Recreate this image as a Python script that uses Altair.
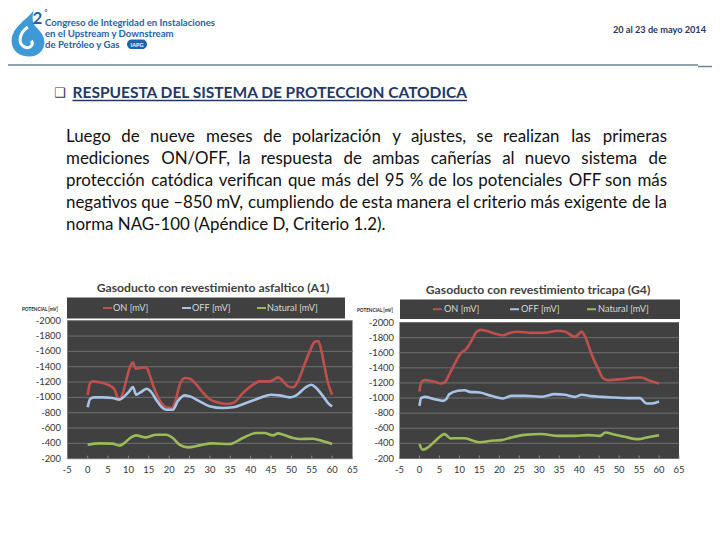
import altair as alt
import pandas as pd

# ------------------------------------------------------------------ data
x_ticks = [-5, 0, 5, 10, 15, 20, 25, 30, 35, 40, 45, 50, 55, 60, 65]
y_ticks = [-2000, -1800, -1600, -1400, -1200, -1000, -800, -600, -400, -200]
series_names = ["ON [mV]", "OFF [mV]", "Natural [mV]"]

# Gasoducto con revestimiento asfaltico (A1)
a1_on_x = [0, 0.6, 1.2, 2.9, 4.5, 5.8, 6.6, 7.4, 7.8, 8.6, 9.5, 10.3, 11.1, 11.8, 12.8, 14.0, 14.6, 15.2, 16.0,
           16.9, 18.1, 19.3, 20.6, 21.4, 22.6, 23.9, 25.1, 26.7, 28.4, 30.0, 31.6, 34.0, 35.7, 38.1, 40.6, 42.2,
           44.7, 45.9, 46.7, 47.6, 49.2, 50.4, 51.6, 52.9, 54.5, 55.7, 56.6, 57.4, 58.2, 59.0, 60]
a1_on_y = [-1030, -1185, -1208, -1196, -1174, -1143, -1100, -995, -980, -1050, -1230, -1383, -1457, -1374, -1383,
           -1391, -1374, -1296, -1165, -1044, -926, -870, -861, -926, -1165, -1252, -1243, -1165, -1056, -975, -939,
           -913, -926, -1056, -1165, -1209, -1209, -1239, -1261, -1230, -1143, -1130, -1209, -1383, -1600, -1722,
           -1735, -1600, -1383, -1187, -1035]
a1_off_x = [0, 0.6, 1.6, 3.7, 6.1, 7.8, 9.0, 10.2, 11.1, 11.9, 13.1, 14.5, 15.6, 16.8, 18.0, 19.3, 20.9, 22.1,
            23.8, 25.0, 27.5, 29.9, 33.2, 35.7, 38.9, 42.2, 45.0, 47.1, 49.6, 51.2, 53.3, 54.9, 56.1, 57.8, 59.0, 60]
a1_off_y = [-870, -978, -1000, -1000, -991, -970, -1013, -1078, -1135, -1035, -1070, -1113, -1070, -970, -883,
            -839, -839, -948, -1026, -1013, -948, -885, -861, -870, -926, -991, -1035, -1026, -1000, -1026, -1122,
            -1165, -1122, -1013, -926, -883]
a1_nat_x = [0, 2.9, 6.1, 7.8, 9.0, 10.2, 11.9, 14.3, 16.8, 19.3, 20.9, 22.5, 24.6, 27.5, 30.5, 34.8, 38.1, 41.4,
            43.4, 45.5, 46.7, 48.0, 50.4, 52.0, 55.3, 57.8, 60]
a1_nat_y = [-383, -400, -396, -370, -404, -461, -504, -478, -513, -513, -470, -383, -348, -374, -400, -391, -470,
            -535, -535, -504, -530, -513, -470, -457, -461, -426, -391]

# Gasoducto con revestimiento tricapa (G4)
g4_on_x = [0, 0.4, 1.3, 3.8, 5.4, 6.3, 7.5, 9.2, 10.5, 11.7, 13.0, 14.2, 15.3, 16.7, 18.8, 20.9, 23.0, 24.7, 28.0,
           31.4, 34.7, 36.4, 38.9, 39.7, 40.6, 41.4, 43.1, 44.8, 46.0, 47.3, 50.6, 54.0, 55.6, 57.3, 60]
g4_on_y = [-1087, -1206, -1237, -1215, -1193, -1206, -1316, -1493, -1603, -1647, -1757, -1868, -1903, -1890, -1855,
           -1832, -1868, -1877, -1863, -1865, -1890, -1881, -1810, -1837, -1881, -1824, -1581, -1382, -1263, -1237,
           -1250, -1272, -1272, -1237, -1193]
g4_off_x = [0, 0.4, 1.3, 3.8, 5.9, 6.7, 7.5, 9.6, 11.3, 12.6, 15.1, 18.0, 20.9, 23.0, 26.4, 30.5, 33.9, 36.4, 38.9,
            40.6, 43.1, 45.6, 48.9, 52.3, 55.2, 56.9, 58.2, 60]
g4_off_y = [-897, -999, -1016, -985, -963, -985, -1052, -1096, -1104, -1082, -1074, -1029, -994, -1029, -1029, -1018,
            -1052, -1043, -1016, -1043, -1025, -1016, -1007, -999, -999, -928, -928, -954]
g4_nat_x = [0, 0.8, 2.1, 3.8, 5.4, 6.3, 6.9, 7.8, 9.6, 11.3, 13.0, 15.1, 18.0, 20.5, 23.0, 26.4, 30.5, 34.7, 38.9,
            42.3, 45.2, 46.6, 48.5, 51.4, 54.8, 56.9, 60]
g4_nat_y = [-390, -315, -346, -425, -500, -522, -500, -465, -469, -469, -443, -416, -434, -443, -478, -513, -524,
            -500, -500, -509, -500, -544, -522, -487, -456, -478, -509]

# texts
header_lines = ["Congreso de Integridad en Instalaciones", "en el Upstream y Downstream", "de Petróleo y Gas"]
header_date = "20 al 23 de mayo 2014"
slide_title = "RESPUESTA DEL SISTEMA DE PROTECCION CATODICA"
para_lines = [
    "Luego de nueve meses de polarización y ajustes, se realizan las primeras",
    "mediciones ON/OFF, la respuesta de ambas cañerías al nuevo sistema de",
    "protección catódica verifican que más del 95 % de los potenciales OFF son más",
    "negativos que \u2013850 mV, cumpliendo de esta manera el criterio más exigente de la",
    "norma NAG-100 (Apéndice D, Criterio 1.2).",
]
chart_titles = ["Gasoducto con revestimiento asfaltico (A1)", "Gasoducto con revestimiento tricapa (G4)"]
y_axis_name = "POTENCIAL [mV]"

# ------------------------------------------------------------------ styles / layout
FONT = "Lato"
ON_C, OFF_C, NAT_C = "#c0504d", "#a7c3e8", "#9bbb59"
PLOT_BG = "#404040"
GRID_C = "#6f6f6f"
NAVY = "#1f3864"
LOGO_BLUE = "#1f63a8"
PARA_SIZE = 16.9


def P(v):
    """page coordinate -> chart coordinate (8px page margin)"""
    return v - 8


layers = []


def text(t, x, y, size, color="#000000", weight="normal", align="left", baseline="middle", font=FONT):
    layers.append(
        alt.Chart().mark_text(align=align, baseline=baseline, fontSize=size, fontWeight=weight, font=font,
                              color=color)
        .encode(x=alt.value(P(x)), y=alt.value(P(y)), text=alt.value(t))
    )


def hrule(x1, x2, y, color, width=1.0):
    layers.append(
        alt.Chart().mark_rule(color=color, strokeWidth=width)
        .encode(x=alt.value(P(x1)), x2=alt.value(P(x2)), y=alt.value(P(y)))
    )


def rect(x1, x2, y1, y2, color, radius=0):
    layers.append(
        alt.Chart().mark_rect(color=color, cornerRadius=radius)
        .encode(x=alt.value(P(x1)), x2=alt.value(P(x2)), y=alt.value(P(y1)), y2=alt.value(P(y2)))
    )


# ---------------- header (logo, congress name, date, separator)
drop_path = ("M0.25,-1 C0.05,-0.6 -0.7,-0.3 -0.7,0.35 C-0.7,0.75 -0.35,1 0.05,1 C0.45,1 0.7,0.72 0.7,0.4 "
             "C0.7,0.1 0.5,-0.1 0.3,-0.3 C0.15,-0.5 0.2,-0.8 0.25,-1 Z")
swirl_path = "M0.1,-0.55 C-0.4,-0.2 -0.45,0.35 -0.1,0.55 C0.2,0.7 0.45,0.45 0.3,0.2"
layers.append(alt.Chart().mark_point(shape=drop_path, filled=True, color="#3d9ad6", opacity=1, size=2200)
              .encode(x=alt.value(P(28)), y=alt.value(P(33))))
layers.append(alt.Chart().mark_point(shape=swirl_path, filled=False, color="white", strokeWidth=3, opacity=1,
                                     size=1300)
              .encode(x=alt.value(P(26)), y=alt.value(P(37))))
text("2", 32.5, 19, 17, LOGO_BLUE, "bold")
text("°", 44.5, 12.5, 7, LOGO_BLUE, "bold")
for i, line in enumerate(header_lines):
    text(line, 45, 22.5 + 11 * i, 9.6, LOGO_BLUE, "bold")
rect(127, 147, 39.5, 49, LOGO_BLUE, radius=5)
text("IAPG", 137, 44.5, 5.5, "white", "bold", align="center")
text(header_date, 706, 30, 9.2, NAVY, "bold", align="right")
hrule(8, 698, 65, "#6d8696", 1.5)
hrule(698, 720, 66.5, "#6d8696", 1.5)

# ---------------- slide title
text("\u2751", 54, 92.5, 13, NAVY, font="DejaVu Sans")
text(slide_title, 72.5, 92.5, 15.5, NAVY, "bold")
hrule(72.5, 467, 100.5, NAVY, 1.3)

# ---------------- paragraph (justified text)
# approximate advance widths (em) of the paragraph font, used only to spread words across the line
CW = {**{c: w for c, w in zip("abcdefghijklmnopqrstuvwxyz",
                              [.50, .56, .46, .56, .53, .32, .50, .56, .24, .24, .50, .24, .84, .56, .56, .56, .56,
                               .36, .42, .35, .56, .50, .76, .49, .50, .45])},
      "á": .50, "é": .53, "í": .24, "ó": .56, "ñ": .56, "A": .66, "C": .65, "D": .73, "E": .54, "F": .52,
      "G": .70, "L": .47, "N": .74, "O": .77, "P": .56, "R": .59, "S": .49, " ": .20, ",": .21, ".": .21,
      "/": .36, "(": .30, ")": .30, "-": .35, "\u2013": .56, "%": .80}


def est_em(s):
    return sum(CW.get(c, .58) for c in s)


# calibration from a rendered line: line 4 measured 591 px at 16.6 px
CAL = (591 / 16.6) / est_em(para_lines[3])

PARA_X0, PARA_X1 = 66, 667
para_y = [137, 159, 181, 203, 225]
for li, line in enumerate(para_lines):
    if li == len(para_lines) - 1:
        text(line, PARA_X0, para_y[li], PARA_SIZE, "#111111")
        continue
    words = line.split(" ")
    widths = [est_em(w) * CAL * PARA_SIZE for w in words]
    gap = (PARA_X1 - PARA_X0 - sum(widths)) / (len(words) - 1)
    xpos = PARA_X0
    for k, (w, wd) in enumerate(zip(words, widths)):
        if k == len(words) - 1:
            text(w, PARA_X1, para_y[li], PARA_SIZE, "#111111", align="right")
        else:
            text(w, xpos, para_y[li], PARA_SIZE, "#111111")
        xpos += wd + gap


# ---------------- chart panels
def panel(title, title_xy, band, legend_pos, plot_x, plot_y, ylab_x, yname_xy, xs_on, ys_on, xs_off, ys_off,
          xs_nat, ys_nat):
    text(title, title_xy[0], title_xy[1], 12.2, "#404040", "bold", align="center")
    rect(band[0], band[1], band[2], band[3], PLOT_BG)
    ly = (band[2] + band[3]) / 2
    for name, col, (sx, tx_) in zip(series_names, [ON_C, OFF_C, NAT_C], legend_pos):
        hrule(sx, sx + 9, ly, col, 2)
        text(name, tx_, ly, 9.2, "#d9d9d9")
    text(y_axis_name, yname_xy[0], yname_xy[1], 4.6, "#222222", "bold")

    xsc = alt.Scale(domain=[-5, 65], range=[P(plot_x[0]), P(plot_x[1])], nice=False, zero=False)
    ysc = alt.Scale(domain=[-2000, -200], range=[P(plot_y[0]), P(plot_y[1])], nice=False, zero=False)

    layers.append(
        alt.Chart().mark_rect(color=PLOT_BG).encode(
            x=alt.X(datum=-5, scale=xsc, axis=None), x2=alt.X2(datum=65),
            y=alt.Y(datum=-2000, scale=ysc, axis=None), y2=alt.Y2(datum=-200))
    )
    yt = pd.DataFrame({"v": y_ticks, "lab": [str(v) for v in y_ticks]})
    layers.append(
        alt.Chart(yt).mark_rule(color=GRID_C, strokeWidth=1).encode(
            y=alt.Y("v:Q", scale=ysc, axis=None), x=alt.value(P(plot_x[0])), x2=alt.value(P(plot_x[1])))
    )
    layers.append(
        alt.Chart(yt).mark_text(align="right", baseline="middle", fontSize=9.4, font=FONT, color="#333333")
        .encode(y=alt.Y("v:Q", scale=ysc, axis=None), x=alt.value(P(ylab_x)), text="lab:N")
    )
    xt = pd.DataFrame({"v": x_ticks, "lab": [str(v) for v in x_ticks]})
    layers.append(
        alt.Chart(xt).mark_rule(color="#8a8a8a", strokeWidth=1).encode(
            x=alt.X("v:Q", scale=xsc, axis=None), y=alt.value(P(plot_y[1]) - 3), y2=alt.value(P(plot_y[1])))
    )
    layers.append(
        alt.Chart(xt).mark_text(align="center", baseline="middle", fontSize=9.4, font=FONT, color="#333333")
        .encode(x=alt.X("v:Q", scale=xsc, axis=None), y=alt.value(P(plot_y[1] + 11)), text="lab:N")
    )
    df = pd.concat([
        pd.DataFrame({"x": xs_on, "v": ys_on, "serie": series_names[0]}),
        pd.DataFrame({"x": xs_off, "v": ys_off, "serie": series_names[1]}),
        pd.DataFrame({"x": xs_nat, "v": ys_nat, "serie": series_names[2]}),
    ])
    layers.append(
        alt.Chart(df).mark_line(interpolate="monotone", strokeWidth=2.6).encode(
            x=alt.X("x:Q", scale=xsc, axis=None),
            y=alt.Y("v:Q", scale=ysc, axis=None),
            color=alt.Color("serie:N", scale=alt.Scale(domain=series_names, range=[ON_C, OFF_C, NAT_C]),
                            legend=None),
        )
    )


panel(chart_titles[0], (213, 288), (67, 345, 297.5, 318.5), [(103, 113), (182, 192), (257, 267)],
      (67.3, 352.5), (320.7, 458.7), 61, (22, 309.5),
      a1_on_x, a1_on_y, a1_off_x, a1_off_y, a1_nat_x, a1_nat_y)
panel(chart_titles[1], (538, 289.5), (400, 680, 299.5, 319), [(433, 444), (510, 521), (587, 598)],
      (399.5, 679), (322.5, 458.5), 394, (357, 310.5),
      g4_on_x, g4_on_y, g4_off_x, g4_off_y, g4_nat_x, g4_nat_y)

chart = (
    alt.layer(*layers)
    .resolve_scale(x="independent", y="independent")
    .properties(width=704, height=524, padding=0, autosize=alt.AutoSizeParams(type="none"))
    .configure_view(stroke=None)
)
chart.save("out.html", embed_options={"renderer": "svg", "actions": False})
